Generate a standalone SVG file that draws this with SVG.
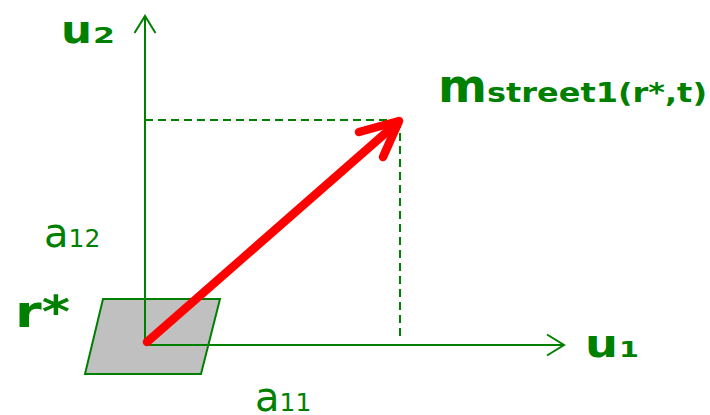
<svg xmlns="http://www.w3.org/2000/svg" width="710" height="415" viewBox="0 0 710 415">
<style>
.ax{stroke:#008000;stroke-width:2;fill:none}
.dash{stroke:#008000;stroke-width:2;fill:none;stroke-dasharray:8 5}
.t{font-family:"DejaVu Sans",Verdana,sans-serif;fill:#008000}
.b{font-weight:bold}
</style>
<defs>
<marker id="open" markerWidth="20" markerHeight="24" refX="18" refY="12" orient="auto" markerUnits="userSpaceOnUse">
<path d="M1,1.5 L18,12 L1,22.5" fill="none" stroke="#008000" stroke-width="2"/>
</marker>
</defs>
<g id="base">
<polygon points="103,299 220,299 201,374 85,374" fill="#c0c0c0" stroke="#008000" stroke-width="2"/>
</g>
<g id="connectors">
<line class="ax" x1="145" y1="345" x2="145" y2="16" marker-end="url(#open)"/>
<line class="ax" x1="145" y1="345" x2="564" y2="345" marker-end="url(#open)"/>
<line class="dash" x1="145" y1="120" x2="400" y2="120"/>
<line class="dash" x1="400" y1="120" x2="400" y2="336"/>
<g stroke="#ff0000" stroke-width="8.5" stroke-linecap="round" stroke-linejoin="round" fill="none">
<line x1="147" y1="342" x2="397" y2="123"/>
<polyline points="359,132 399,121 383,157"/>
</g>
</g>
<g id="labels">
<text class="t b" x="61" y="43" font-size="37" textLength="31" lengthAdjust="spacingAndGlyphs">u</text>
<text class="t b" x="93" y="43" font-size="22" textLength="22" lengthAdjust="spacingAndGlyphs">2</text>
<text class="t b" x="585" y="357" font-size="37" textLength="33" lengthAdjust="spacingAndGlyphs">u</text>
<text class="t b" x="619" y="357" font-size="22" textLength="20" lengthAdjust="spacingAndGlyphs">1</text>
<text class="t b" x="438" y="102" font-size="47">m</text>
<text class="t b" x="487" y="102" font-size="27" textLength="220" lengthAdjust="spacingAndGlyphs">street1(r*,t)</text>
<text class="t b" x="15" y="327" font-size="44" textLength="55" lengthAdjust="spacingAndGlyphs">r*</text>
<text class="t" x="44" y="247" font-size="40">a<tspan font-size="25">12</tspan></text>
<text class="t" x="255" y="411" font-size="40">a<tspan font-size="25">11</tspan></text>
</g>
</svg>
